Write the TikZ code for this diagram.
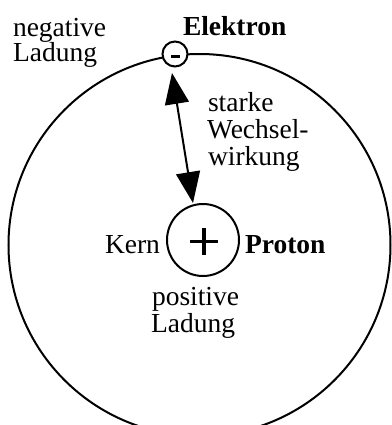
\documentclass[tikz,border=0pt]{standalone}
\usepackage{fontspec}
\setmainfont{Liberation Serif}
\usetikzlibrary{arrows.meta}
\begin{document}
\begin{tikzpicture}[x=1bp,y=-1bp,
  lbl/.style={inner sep=0pt,outer sep=0pt,anchor=base west,font=\fontsize{27.5bp}{27.5bp}\selectfont},
  lblb/.style={lbl,font=\fontsize{27.5bp}{27.5bp}\selectfont\bfseries},
  thick2/.style={line width=2bp},
  bigarrow/.style={line width=2bp,{Triangle[length=31bp,width=24bp]}-{Triangle[length=31bp,width=24bp]}}]
\useasboundingbox (0,0) rectangle (392,425);
\begin{scope}
\clip (0,0) rectangle (392,425);
\draw[thick2] (199.5,245) circle[radius=191bp];
\end{scope}
% electron
\node[draw,thick2,fill=white,circle,minimum size=25bp,inner sep=0pt] (el) at (175,54) {};
\draw[line width=3bp] (171,56) -- (180,56);
% proton
\node[draw,thick2,circle,minimum size=72bp,inner sep=0pt] (pr) at (203,240) {};
\draw[line width=3.2bp] (190,241.5) -- (218,241.5) (204,228) -- (204,255);
% arrow
\coordinate (a1) at (172,73);
\coordinate (a2) at (193,203);
\draw[bigarrow] (a1) -- (a2);
% labels
\node[lbl] (neg1) at (13,36) {negative};
\node[lbl] (neg2) at (13,61) {Ladung};
\node[lblb] (elk) at (183,35) {Elektron};
\node[lbl] (st1) at (208,111) {starke};
\node[lbl] (st2) at (207,138) {Wechsel-};
\node[lbl] (st3) at (208,165) {wirkung};
\node[lbl,anchor=base east] (kern) at (160,253) {Kern};
\node[lblb] (prot) at (245,253) {Proton};
\node[lbl] (pos1) at (152,305) {positive};
\node[lbl] (pos2) at (151,332) {Ladung};
\end{tikzpicture}
\end{document}
